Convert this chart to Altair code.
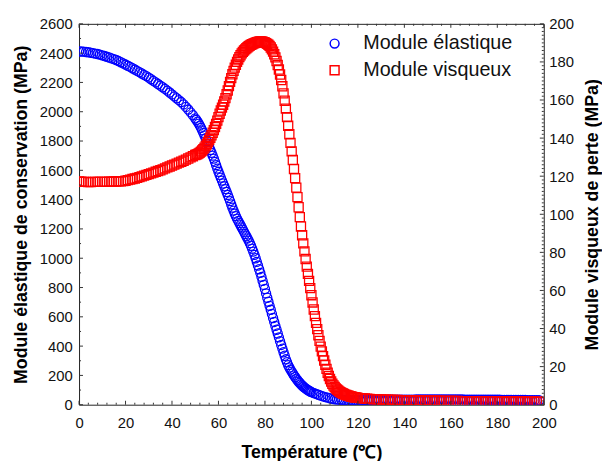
import altair as alt
import numpy as np
import pandas as pd

# ---------------- data ----------------
SERIES = ["Module élastique", "Module visqueux"]
COLORS = ["#0000ff", "#ff0000"]
SHAPES = ["circle", "square"]

# storage (elastic) modulus, left axis, MPa
E_T = np.concatenate([np.arange(0, 51, 1.0), np.arange(50.5, 100.01, 0.5), np.arange(101, 198.01, 1.0)])
E_V = [
    2412, 2411, 2410, 2408, 2406, 2403, 2400, 2397, 2394, 2390,
    2385, 2380, 2375, 2370, 2364, 2359, 2353, 2346, 2338, 2330,
    2322, 2314, 2306, 2297, 2288, 2279, 2270, 2261, 2252, 2243,
    2233, 2222, 2211, 2200, 2189, 2178, 2167, 2156, 2144, 2131,
    2118, 2105, 2092, 2079, 2066, 2050, 2033, 2015, 1996, 1976,
    1955,
    # 50.5 .. 100 step 0.5
    1944, 1932, 1919, 1905, 1890, 1873, 1856, 1838, 1820, 1800,
    1779, 1758, 1739, 1720, 1700, 1680, 1658, 1635, 1612, 1590,
    1570, 1550, 1530, 1510, 1491, 1472, 1452, 1432, 1411, 1390,
    1367, 1345, 1325, 1305, 1287, 1270, 1255, 1240, 1225, 1210,
    1195, 1180, 1165, 1150, 1135, 1120, 1103, 1085, 1065, 1045,
    1023, 1000, 975, 950, 925, 900, 873, 845, 818, 790,
    760, 730, 703, 675, 648, 620, 592, 565, 538, 512,
    486, 460, 434, 408, 383, 358, 334, 310, 290, 270,
    254, 240, 226, 213, 200, 189, 178, 167, 157, 148,
    139, 131, 124, 117, 111, 105, 100, 95, 90, 86,
    # 101 .. 198 step 1
    80, 74, 68, 62, 57, 52, 48, 44, 40, 37,
    35, 33, 32, 31, 30, 30, 30, 30, 30, 30,
    30, 31, 31, 31, 32, 32, 32, 33, 33, 33,
    33, 33, 34, 34, 34, 34, 34, 35, 35, 35,
    35, 35, 35, 35, 36, 36, 36, 36, 36, 36,
    36, 36, 36, 36, 36, 36, 36, 36, 36, 36,
    36, 36, 36, 36, 36, 35, 35, 35, 35, 35,
    35, 35, 35, 35, 34, 34, 34, 34, 34, 34,
    34, 33, 33, 33, 33, 33, 33, 32, 32, 32,
    32, 32, 31, 31, 31, 31, 30, 30,
]

# loss (viscous) modulus, right axis, MPa
V_T = np.concatenate([np.arange(0, 51, 1.0), np.arange(50.5, 120.01, 0.5), np.arange(121, 198.01, 1.0)])
V_V = [
    117.2, 117.1, 117.0, 117.0, 116.9, 116.9, 117.0, 117.0, 117.0, 117.0,
    117.0, 117.0, 117.0, 117.1, 117.1, 117.2, 117.2, 117.3, 117.3, 117.4,
    117.6, 117.9, 118.2, 118.5, 118.8, 119.1, 119.5, 119.9, 120.3, 120.7,
    121.1, 121.5, 121.9, 122.3, 122.7, 123.1, 123.6, 124.1, 124.6, 125.1,
    125.6, 126.1, 126.6, 127.1, 127.6, 128.1, 128.7, 129.3, 129.9, 130.5,
    131.1,
    # 50.5 .. 120 step 0.5
    131.3, 131.6, 132.0, 132.4, 132.9, 133.5, 134.2, 135.0, 135.9, 136.8,
    137.9, 139.0, 140.2, 141.5, 142.8, 144.2, 145.8, 147.5, 149.2, 151.0,
    152.8, 154.5, 156.0, 157.5, 159.2, 161.0, 163.0, 165.0, 167.3, 169.5,
    171.5, 173.5, 175.3, 177.0, 178.5, 180.0, 181.3, 182.5, 183.5, 184.5,
    185.3, 186.0, 186.6, 187.2, 187.7, 188.2, 188.6, 189.0, 189.3, 189.6,
    189.9, 190.1, 190.3, 190.5, 190.6, 190.7, 190.7, 190.6, 190.4, 190.2,
    189.9, 189.5, 189.0, 188.4, 187.6, 186.6, 185.4, 184.0, 182.4, 180.5,
    178.4, 176.0, 173.4, 170.5, 167.2, 163.5, 159.6, 155.5, 151.0, 146.5,
    142.0, 137.5, 133.0, 128.5, 123.8, 119.0, 114.0, 109.0, 103.7, 98.5,
    93.6, 89.0, 84.7, 80.5, 76.5, 72.5, 68.7, 65.0, 61.2, 57.5,
    53.7, 50.0, 46.5, 43.0, 39.7, 36.5, 33.5, 30.5, 28.0, 25.5,
    23.2, 21.0, 18.8, 16.8, 15.1, 13.5, 12.2, 11.0, 10.1, 9.3,
    8.6, 8.0, 7.5, 7.0, 6.6, 6.2, 5.9, 5.6, 5.3, 5.1,
    4.9, 4.7, 4.5, 4.3, 4.15, 4.0, 3.9, 3.8, 3.7, 3.6,
    # 121 .. 198 step 1
    3.45, 3.35, 3.25, 3.15, 3.05, 2.95, 2.9, 2.85, 2.8, 2.75,
    2.7, 2.65, 2.6, 2.55, 2.5, 2.5, 2.45, 2.4, 2.4, 2.35,
    2.3, 2.3, 2.25, 2.25, 2.2, 2.2, 2.2, 2.15, 2.15, 2.1,
    2.1, 2.1, 2.05, 2.05, 2.05, 2.0, 2.0, 2.0, 2.0, 1.95,
    1.95, 1.95, 1.95, 1.9, 1.9, 1.9, 1.9, 1.9, 1.85, 1.85,
    1.85, 1.85, 1.85, 1.8, 1.8, 1.8, 1.8, 1.8, 1.8, 1.75,
    1.75, 1.75, 1.75, 1.75, 1.7, 1.7, 1.7, 1.7, 1.7, 1.7,
    1.7, 1.65, 1.65, 1.65, 1.65, 1.6, 1.6, 1.6,
]

assert len(E_T) == len(E_V), (len(E_T), len(E_V))
assert len(V_T) == len(V_V), (len(V_T), len(V_V))

X_MAJOR = list(range(0, 201, 20))
X_MINOR = [v for v in range(0, 201, 4) if v % 20]
YL_MAJOR = list(range(0, 2601, 200))
YL_MINOR = list(range(100, 2600, 200))
YR_MAJOR = list(range(0, 201, 20))
YR_MINOR = [v for v in range(0, 201, 2) if v % 20]

# ---------------- chart ----------------
W, H = 471, 386
FONT = "Liberation Sans"
INK = "#111111"

df_e = pd.DataFrame({"T": E_T, "v": E_V, "series": SERIES[0]})
df_v = pd.DataFrame({"T": V_T, "v": V_V, "series": SERIES[1]})

xscale = alt.Scale(domain=[0, 200], nice=False, zero=False)
xaxis = alt.Axis(values=X_MAJOR, ticks=False, domain=False, grid=False, format="d",
                 labelFlush=False, labelFontSize=15, labelPadding=11, labelColor=INK,
                 title="Température (℃)", titleFontSize=18, titleFontWeight="bold",
                 titleColor="#000", titlePadding=14)

legend = alt.Legend(orient="none", legendX=249, legendY=10, title=None,
                    labelFontSize=20, labelFont=FONT, labelColor=INK,
                    symbolSize=81, symbolStrokeWidth=1.5, labelOffset=19,
                    rowPadding=7, padding=0)
color = alt.Color("series:N", scale=alt.Scale(domain=SERIES, range=COLORS), legend=legend)
shape = alt.Shape("series:N", scale=alt.Scale(domain=SERIES, range=SHAPES), legend=legend)

blue = alt.Chart(df_e).mark_point(filled=False, size=85, strokeWidth=1.3, opacity=1, clip=True).encode(
    x=alt.X("T:Q", scale=xscale, axis=xaxis),
    y=alt.Y("v:Q", scale=alt.Scale(domain=[0, 2600], nice=False, zero=False),
            axis=alt.Axis(orient="left", values=YL_MAJOR, ticks=False, domain=False, grid=False,
                          format="d", labelFontSize=15, labelPadding=7, labelColor=INK,
                          title="Module élastique de conservation (MPa)", titleFontSize=18,
                          titleFontWeight="bold", titleColor="#000", titlePadding=9)),
    color=color, shape=shape,
)

red = alt.Chart(df_v).mark_point(filled=False, size=85, strokeWidth=1.3, opacity=1, clip=True).encode(
    x=alt.X("T:Q", scale=xscale, axis=xaxis),
    y=alt.Y("v:Q", scale=alt.Scale(domain=[0, 200], nice=False, zero=False),
            axis=alt.Axis(orient="right", values=YR_MAJOR, ticks=False, domain=False, grid=False,
                          format="d", labelFontSize=15, labelPadding=5, labelColor=INK,
                          title="Module visqueux de perte (MPa)", titleFontSize=18,
                          titleFontWeight="bold", titleColor="#000", titlePadding=10,
                          titleAngle=270, titleBaseline="top")),
    color=color, shape=shape,
)


def x_ticks(vals, length, top):
    d = pd.DataFrame({"T": vals})
    y = alt.value(0) if top else alt.value(H)
    y2 = alt.value(length) if top else alt.value(H - length)
    return alt.Chart(d).mark_rule(color="#333", strokeWidth=1).encode(
        x=alt.X("T:Q", scale=xscale, axis=xaxis), y=y, y2=y2)


def y_ticks(vals, domain, length, right):
    d = pd.DataFrame({"v": vals})
    x = alt.value(W - length) if right else alt.value(0)
    x2 = alt.value(W) if right else alt.value(length)
    return alt.Chart(d).mark_rule(color="#333", strokeWidth=1).encode(
        y=alt.Y("v:Q", scale=alt.Scale(domain=domain, nice=False, zero=False), axis=None),
        x=x, x2=x2)


layers = [
    blue, red,
    x_ticks(X_MAJOR, 4, False), x_ticks(X_MINOR, 2, False),
    x_ticks(X_MAJOR, 4, True), x_ticks(X_MINOR, 2, True),
    y_ticks(YL_MAJOR, [0, 2600], 4, False), y_ticks(YL_MINOR, [0, 2600], 2, False),
    y_ticks(YR_MAJOR, [0, 200], 4, True), y_ticks(YR_MINOR, [0, 200], 2, True),
]

chart = alt.layer(*layers).resolve_scale(y="independent").properties(
    width=W, height=H,
    padding={"left": 72, "top": 13, "right": 59, "bottom": 54},
    autosize=alt.AutoSizeParams(type="none"),
).configure(font=FONT).configure_view(stroke="#222", strokeWidth=1)

chart.save("out.html", embed_options={"renderer": "svg", "actions": False})
